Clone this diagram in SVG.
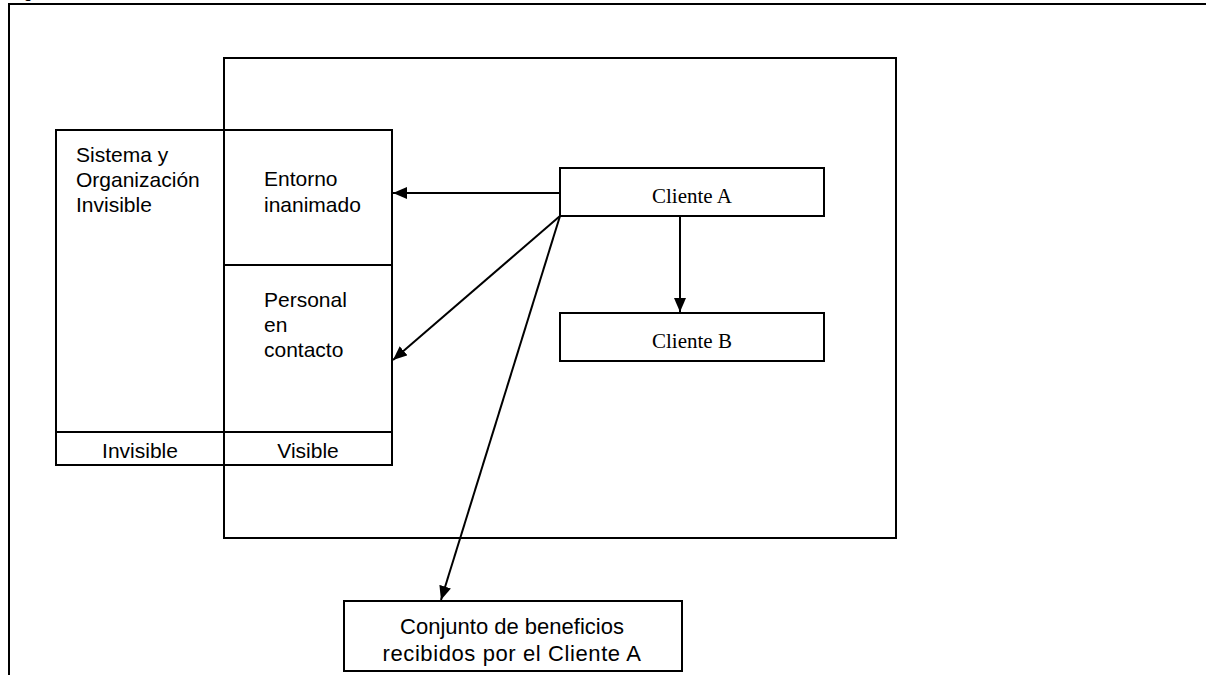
<svg xmlns="http://www.w3.org/2000/svg" width="1206" height="675" viewBox="0 0 1206 675">
  <style>
    .box { fill: none; stroke: #000; stroke-width: 2; }
    .wire { fill: none; stroke: #000; stroke-width: 2; }
    .sans { font-family: "Liberation Sans", Arial, sans-serif; font-size: 21px; fill: #000; }
    .serif { font-family: "Liberation Serif", "Times New Roman", serif; font-size: 21px; fill: #000; }
    .result { font-family: "Liberation Sans", Arial, sans-serif; font-size: 22px; fill: #000; }
  </style>
  <defs>
    <marker id="arrow" viewBox="0 0 14 12" refX="14" refY="6" markerWidth="14" markerHeight="12" markerUnits="userSpaceOnUse" orient="auto">
      <path d="M0,0 L14,6 L0,12 Z" fill="#000"/>
    </marker>
  </defs>
  <rect width="1206" height="675" fill="#fff"/>

  <!-- page frame and clipped caption -->
  <g id="frame">
    <text x="24" y="-2" font-family="Liberation Sans, Arial, sans-serif" font-size="14" font-weight="bold">g</text>
    <path class="box" d="M9,675 V4 H1206"/>
  </g>

  <!-- service area -->
  <g id="service-area">
    <rect class="box" x="224" y="58" width="672" height="480"/>
  </g>

  <!-- organisation block -->
  <g id="organisation">
    <rect class="box" x="56" y="130" width="336" height="335"/>
    <path class="box" d="M224,130 V465 M224,265 H392 M56,432 H392"/>
    <text class="sans" x="76" y="162">Sistema y</text>
    <text class="sans" x="76" y="187">Organización</text>
    <text class="sans" x="76" y="212">Invisible</text>
  </g>

  <g id="entorno">
    <text class="sans" x="264" y="186">Entorno</text>
    <text class="sans" x="264" y="212">inanimado</text>
  </g>

  <g id="personal">
    <text class="sans" x="264" y="307">Personal</text>
    <text class="sans" x="264" y="332">en</text>
    <text class="sans" x="264" y="357">contacto</text>
  </g>

  <g id="labels">
    <text class="sans" x="140" y="458" text-anchor="middle">Invisible</text>
    <text class="sans" x="308" y="458" text-anchor="middle">Visible</text>
  </g>

  <g id="cliente-a">
    <rect class="box" x="560" y="168" width="264" height="48"/>
    <text class="serif" x="692" y="203" text-anchor="middle">Cliente A</text>
  </g>

  <g id="cliente-b">
    <rect class="box" x="560" y="313" width="264" height="48"/>
    <text class="serif" x="692" y="348" text-anchor="middle">Cliente B</text>
  </g>

  <g id="beneficios">
    <rect class="box" x="344" y="601" width="338" height="70"/>
    <text class="result" x="512" y="634" text-anchor="middle">Conjunto de beneficios</text>
    <text class="result" x="512" y="661" text-anchor="middle" letter-spacing="0.6">recibidos por el Cliente A</text>
  </g>

  <!-- connectors -->
  <g id="connectors">
    <line class="wire" x1="560" y1="193" x2="393" y2="193" marker-end="url(#arrow)"/>
    <line class="wire" x1="560" y1="216" x2="393" y2="360" marker-end="url(#arrow)"/>
    <line class="wire" x1="560" y1="216" x2="441" y2="600" marker-end="url(#arrow)"/>
    <line class="wire" x1="680" y1="216" x2="680" y2="312" marker-end="url(#arrow)"/>
  </g>
</svg>
